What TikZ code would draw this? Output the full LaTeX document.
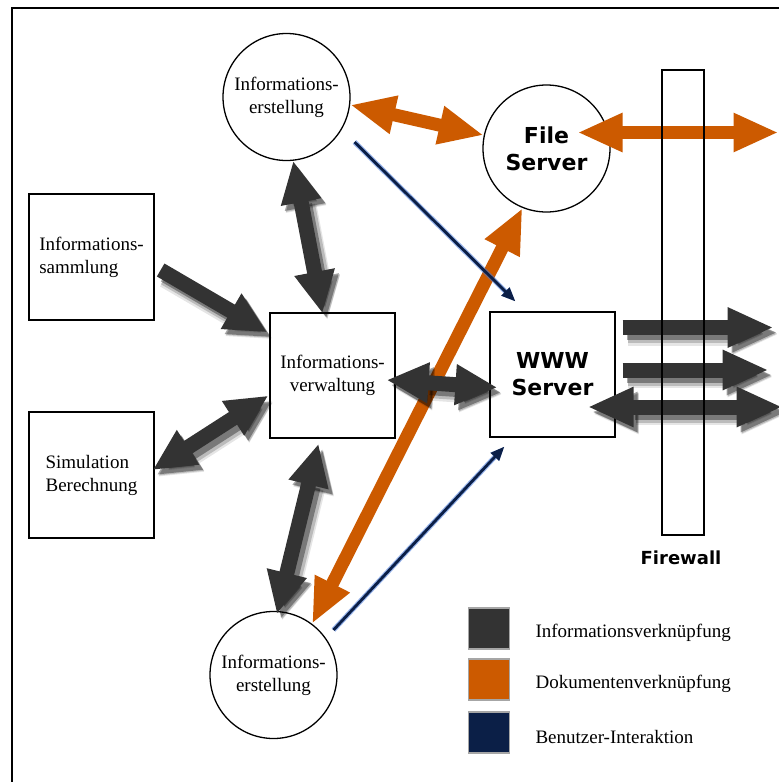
\documentclass[tikz,border=0pt]{standalone}
\usepackage{fontspec}
\setmainfont{Liberation Serif}
\newfontfamily\dvs{DejaVu Sans}
\usetikzlibrary{arrows.meta}
\definecolor{darkg}{HTML}{333333}
\definecolor{orng}{HTML}{CC5A00}
\definecolor{navy}{HTML}{0B1F47}
\definecolor{glow}{HTML}{3F74D9}
\tikzset{
  dhead/.tip={Triangle[width=38pt,length=42pt]},
  ohead/.tip={Triangle[width=36pt,length=45pt]},
  bhead/.tip={Triangle[width=11pt,length=14pt]},
  rbox/.style={draw, line width=1.3pt, fill=white, inner sep=0pt, minimum width=125pt, minimum height=125pt},
  cbox/.style={draw, line width=1.3pt, fill=white, circle, inner sep=0pt, minimum size=127pt},
  serif/.style={font=\fontsize{19}{23}\selectfont, align=center},
  sansb/.style={font=\dvs\bfseries\fontsize{22}{27}\selectfont, align=center},
  dshadowA/.style={draw=black, opacity=0.10, line width=22pt, transform canvas={shift={(5,7)}}},
  dshadowB/.style={draw=black, opacity=0.18, line width=19pt, transform canvas={shift={(5,6)}}},
  dshadowC/.style={draw=black, opacity=0.35, line width=15pt, transform canvas={shift={(4,5)}}},
  darkarrow/.style={draw=darkg, line width=15pt},
  orarrow/.style={draw=orng, line width=13pt},
  blarrow/.style={draw=navy, line width=2.8pt, -bhead,
     preaction={draw=glow, line width=5pt, opacity=0.55}},
  legsq/.style={draw=black!35, line width=1.2pt, minimum size=41pt, inner sep=0pt},
  legtxt/.style={anchor=west, font=\fontsize{19}{23}\selectfont}
}
\newcommand\darr[3]{%
  \draw[dshadowA,#1] #2 -- #3;
  \draw[dshadowB,#1] #2 -- #3;
  \draw[dshadowC,#1] #2 -- #3;
  \draw[darkarrow,#1] #2 -- #3;}
\begin{document}
\begin{tikzpicture}[x=1pt,y=-1pt]
\useasboundingbox (0,0) rectangle (779,782);
\clip (0,0) rectangle (779,782);
\fill[white] (0,0) rectangle (779,782);
\draw[line width=1.5pt] (12,8) rectangle (800,800);

% nodes
\node[cbox, serif] (ie1) at (286.5,97) {Informations-\\erstellung};
\node[cbox, sansb] (fs) at (546.5,148.5) {File\\Server};
\node[rbox, serif, align=left, minimum height=126pt] (samm) at (91.5,257) {Informations-\\sammlung};
\node[rbox, serif, align=left, minimum height=126pt] (sim) at (91.5,475) {Simulation\\Berechnung};
\node[rbox, serif] (verw) at (332.5,375.5) {Informations-\\verwaltung};
\node[rbox, sansb] (www) at (552.5,374.5) {WWW\\Server};
\node[cbox, serif] (ie2) at (273.5,675) {Informations-\\erstellung};

% orange connectors
\draw[orarrow, ohead-ohead] (ie1.-7) -- (fs.168);
\draw[orarrow, ohead-ohead] ([shift={(31,-16)}]fs.center) -- ++(201,0);
\draw[orarrow, ohead-ohead] (fs.-112) -- (ie2.53);

% blue connectors
\draw[blarrow] ([shift={(68,45)}]ie1.center) -- ([shift={(26,-10)}]www.north west);
\draw[blarrow] ([shift={(60,-45)}]ie2.center) -- ([shift={(15,9)}]www.south west);

% dark connectors
\darr{-dhead}{([shift={(6,13)}]samm.east)}{([shift={(-2,20)}]verw.north west)}
\darr{dhead-dhead}{([shift={(-2,-5)}]sim.east)}{([shift={(-1,-43)}]verw.south west)}
\darr{dhead-dhead}{(ie1.-84)}{([shift={(-10,1)}]verw.north)}
\darr{dhead-dhead}{([shift={(-14,5)}]verw.south)}{([shift={(0,3)}]ie2.87)}
\darr{dhead-dhead}{([shift={(-9,4.5)}]verw.east)}{([shift={(8,13)}]www.west)}
\darr{-{Triangle[width=37pt,length=46pt]}}{([shift={(7,-47)}]www.east)}{++(151,0)}
\darr{-{Triangle[width=37pt,length=46pt]}}{([shift={(7,-4.5)}]www.east)}{++(146,0)}
\darr{{Triangle[width=37pt,length=46pt]}-{Triangle[width=37pt,length=46pt]}}{([shift={(-28,32.5)}]www.east)}{++(195,0)}

% firewall
\node[draw, line width=1.3pt, minimum width=42pt, minimum height=465pt, inner sep=0pt] (fw) at (683,302.5) {};
\node[font=\dvs\bfseries\fontsize{18}{22}\selectfont] (fwl) at (681,558) {Firewall};

% legend
\node[legsq, fill=darkg] (l1) at (489,628.5) {};
\node[legsq, fill=orng] (l2) at (489,679.5) {};
\node[legsq, fill=navy] (l3) at (489,732.5) {};
\node[legtxt] (t1) at (532,633) {Informationsverknüpfung};
\node[legtxt] (t2) at (532,684) {Dokumentenverknüpfung};
\node[legtxt] (t3) at (532,737) {Benutzer-Interaktion};
\end{tikzpicture}
\end{document}
